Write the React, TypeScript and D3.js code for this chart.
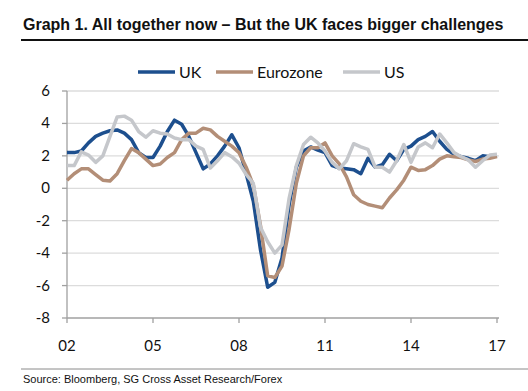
import React from "react";
import * as d3 from "d3";

// quarterly, 2002Q1 .. 2017Q1
const uk = [
  2.2, 2.2, 2.3, 2.8, 3.2, 3.4, 3.55, 3.6, 3.4, 3.0, 2.2, 1.9, 1.9, 2.6, 3.5, 4.2,
  3.95, 3.2, 2.2, 1.2, 1.5, 2.0, 2.6, 3.3, 2.5, 0.9, -0.8, -3.8, -6.1, -5.8, -4.3,
  -1.0, 1.3, 2.3, 2.55, 2.35, 2.2, 1.4, 1.25, 1.2, 1.15, 0.9, 1.85, 1.3, 1.45, 2.1,
  1.7, 2.4, 2.6, 3.0, 3.2, 3.5, 2.9, 2.4, 2.1, 1.95, 1.85, 1.7, 2.0, 1.95, 2.0,
];
const eurozone = [
  0.5, 0.9, 1.2, 1.2, 0.85, 0.5, 0.45, 0.9, 1.7, 2.45, 2.2, 1.8, 1.4, 1.5, 1.9, 2.2,
  3.0, 3.4, 3.4, 3.7, 3.6, 3.2, 2.9, 2.6, 2.2, 1.3, 0.2, -2.3, -5.4, -5.5, -4.8,
  -2.5, 0.3, 2.0, 2.5, 2.5, 2.8, 2.0, 1.5, 0.7, -0.4, -0.8, -1.0, -1.1, -1.2, -0.6,
  -0.1, 0.5, 1.3, 1.1, 1.15, 1.4, 1.8, 2.0, 1.95, 1.9, 1.75, 1.65, 1.8, 1.85, 1.95,
];
const us = [
  1.4, 1.4, 2.25, 2.05, 1.6, 2.0, 3.2, 4.4, 4.45, 4.2, 3.5, 3.15, 3.55, 3.4, 3.35, 3.1,
  3.0, 3.0, 2.6, 2.4, 1.25, 1.7, 2.2, 1.95, 1.55, 0.85, 0.3, -2.4, -3.3, -4.0, -3.5,
  -0.6, 1.4, 2.7, 3.15, 2.8, 2.3, 1.6, 1.2, 1.7, 2.75, 2.55, 2.4, 1.3, 1.3, 1.0,
  1.7, 2.7, 1.6, 2.55, 2.8, 2.5, 3.35, 2.8, 2.2, 1.95, 1.75, 1.3, 1.7, 2.05, 2.1,
];
const yTicks = [6, 4, 2, 0, -2, -4, -6, -8];
const xTicks = [2002, 2005, 2008, 2011, 2014, 2017];

const series = [
  { name: "UK", values: uk, color: "#1d4f8e" },
  { name: "Eurozone", values: eurozone, color: "#b38e77" },
  { name: "US", values: us, color: "#c5c7cb" },
];

export default function App() {
  const x = d3.scaleLinear().domain([2002, 2017]).range([67, 497]);
  const y = d3.scaleLinear().domain([-8, 6]).range([318, 91]);

  const line = d3
    .line<number>()
    .x((_, i) => x(2002 + i / 4))
    .y((d) => y(d));

  const tickFont = "Lato, 'Open Sans', sans-serif";
  const legendX = [138, 216, 343];

  return (
    <svg
      width={528}
      height={391}
      style={{ position: "absolute", left: 0, top: 0, background: "#fff" }}
    >
      {/* title */}
      <text
        x={23}
        y={30}
        fontFamily="'Liberation Sans', Arial, sans-serif"
        fontWeight="bold"
        fontSize={16}
        fill="#111"
      >
        Graph 1. All together now – But the UK faces bigger challenges
      </text>
      <line x1={21} x2={528} y1={40} y2={40} stroke="#111" strokeWidth={2} />

      {/* legend */}
      {series.map((s, i) => (
        <g key={s.name}>
          <line
            x1={legendX[i]}
            x2={legendX[i] + 37}
            y1={72}
            y2={72}
            stroke={s.color}
            strokeWidth={3.5}
          />
          <text
            x={legendX[i] + 41}
            y={77.5}
            fontFamily={tickFont}
            fontSize={16}
            fill="#111"
          >
            {s.name}
          </text>
        </g>
      ))}

      {/* grid */}
      {yTicks.slice(0, -1).map((t) => (
        <line
          key={t}
          x1={67}
          x2={499}
          y1={y(t)}
          y2={y(t)}
          stroke="#dcdcdc"
          strokeWidth={1.3}
        />
      ))}

      {/* y axis */}
      <line x1={67} x2={67} y1={91} y2={318} stroke="#a0a0a0" strokeWidth={1.3} />
      {yTicks.map((t) => (
        <g key={t}>
          <line x1={62} x2={67} y1={y(t)} y2={y(t)} stroke="#a0a0a0" strokeWidth={1.3} />
          <text
            x={50}
            y={y(t) + 5}
            textAnchor="end"
            fontFamily={tickFont}
            fontSize={15}
            fill="#111"
          >
            {t}
          </text>
        </g>
      ))}

      {/* x axis */}
      <line x1={67} x2={499} y1={318} y2={318} stroke="#a0a0a0" strokeWidth={1.3} />
      {xTicks.map((t) => (
        <g key={t}>
          <line x1={x(t)} x2={x(t)} y1={318} y2={323} stroke="#a0a0a0" strokeWidth={1.3} />
          <text
            x={x(t)}
            y={351}
            textAnchor="middle"
            fontFamily={tickFont}
            fontSize={15}
            fill="#111"
          >
            {d3.format("02d")(t % 100)}
          </text>
        </g>
      ))}

      {/* series */}
      {series.map((s) => (
        <path
          key={s.name}
          d={line(s.values) ?? ""}
          fill="none"
          stroke={s.color}
          strokeWidth={3.5}
          strokeLinejoin="round"
        />
      ))}

      {/* source */}
      <line x1={21} x2={528} y1={369} y2={369} stroke="#8a8a8a" strokeWidth={1} />
      <text
        x={23}
        y={383}
        fontFamily="'Liberation Sans', Arial, sans-serif"
        fontSize={11}
        fill="#111"
      >
        Source: Bloomberg, SG Cross Asset Research/Forex
      </text>
    </svg>
  );
}
